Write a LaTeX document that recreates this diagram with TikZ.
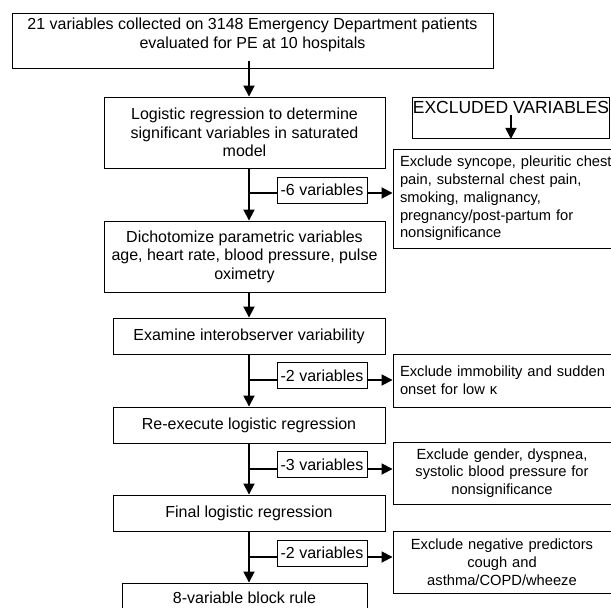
\documentclass[tikz,border=0pt]{standalone}
\usepackage{fontspec}
\setmainfont{Liberation Sans}
\usetikzlibrary{positioning,arrows}
\usetikzlibrary{shapes}
\usetikzlibrary{arrows.meta}
\usepackage{xcolor}

\begin{document}
\begin{tikzpicture}[x=1pt,y=-1pt]
	\useasboundingbox (0,0) rectangle (611,608);
	\tikzstyle{every node}=[draw, rectangle, line width=0.9pt, inner sep=0pt, font=\fontsize{16pt}{18.5pt}\selectfont]
	\tikzstyle{stage}=[align=center, minimum width=272pt, minimum height=36pt]
	\tikzstyle{drop}=[fill=white, minimum width=90pt, minimum height=26pt]
	\tikzstyle{why}=[font=\fontsize{14.7pt}{17.75pt}\selectfont, inner xsep=7pt, text width=204pt]
	\tikzstyle{flow}=[line width=1.8pt, -{Triangle[length=11pt,width=11pt]}]

	% main column
	\draw (252.5,40.5) node (data) [stage, minimum width=481pt, minimum height=55pt, text depth=15pt] {21 variables collected on 3148 Emergency Department patients\\evaluated for PE at 10 hospitals};
	\draw (244.5,132.5) node (logit) [stage, minimum width=281pt, minimum height=71pt] {Logistic regression to determine\\significant variables in saturated\\model};
	\draw (244.5,256.5) node (dichot) [stage, minimum width=281pt, minimum height=71pt] {Dichotomize parametric variables\\age, heart rate, blood pressure, pulse\\oximetry};
	\draw (249,336) node (examine) [stage] {Examine interobserver variability};
	\draw (249,425) node (reexec) [stage] {Re-execute logistic regression};
	\draw (249,513) node (final) [stage] {Final logistic regression};
	\draw (244.5,598) node (rule) [stage, minimum width=245pt, minimum height=30pt] {8-variable block rule};

	% excluded column
	\draw (412,97) node (exhead) [anchor=north west, font=\fontsize{17.5pt}{20pt}\selectfont, minimum width=197pt, text height=16pt, text depth=25pt] {EXCLUDED VARIABLES};
	\draw (509,198.5) node (ex1) [why, align=left, text width=218pt, minimum height=99pt] {Exclude syncope, pleuritic chest\\pain, substernal chest pain,\\smoking, malignancy,\\pregnancy/post-partum for\\nonsignificance};
	\draw (509,380.5) node (ex2) [why, align=left, text width=218pt, minimum height=53pt] {Exclude immobility and sudden\\onset for low κ};
	\draw (502,473) node (ex3) [why, align=center, minimum height=62pt] {Exclude gender, dyspnea,\\systolic blood pressure for\\nonsignificance};
	\draw (502,562) node (ex4) [why, align=center, minimum height=62pt] {Exclude negative predictors\\cough and\\asthma/COPD/wheeze};

	\coordinate (b1) at (249,193);
	\coordinate (b2) at (249,380);
	\coordinate (b3) at (249,469);
	\coordinate (b4) at (249,557);

	\draw [flow] ([yshift=7pt]data.south -| b1) to (logit.north -| b1);
	\draw [flow] (logit.south -| b1) to (dichot.north -| b1);
	\draw [flow] (dichot.south -| b1) to (examine.north);
	\draw [flow] (examine.south) to (reexec.north);
	\draw [flow] (reexec.south) to (final.north);
	\draw [flow] (final.south) to (rule.north -| b1);
	\draw [flow] ([yshift=-18pt]exhead.north) to (exhead.south);

	\draw [flow] (b1) to (b1 -| ex1.west);
	\draw [flow] (b2) to (b2 -| ex2.west);
	\draw [flow] (b3) to (b3 -| ex3.west);
	\draw [flow] (b4) to (b4 -| ex4.west);

	\draw (322,190) node (less6) [drop] {-6 variables};
	\draw (322,375.5) node (less2a) [drop] {-2 variables};
	\draw (322,464.5) node (less3) [drop] {-3 variables};
	\draw (322,553) node (less2b) [drop] {-2 variables};
\end{tikzpicture}
\end{document}
